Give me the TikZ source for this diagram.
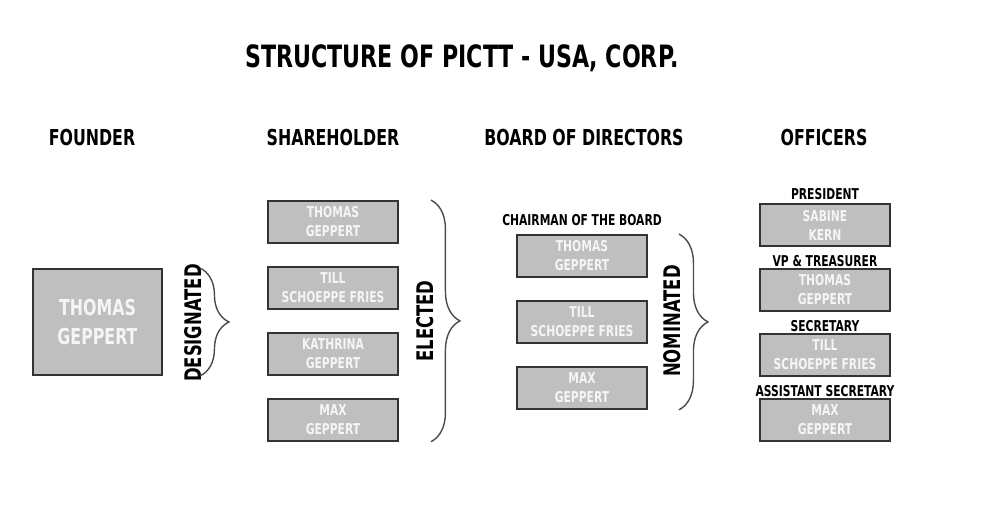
\documentclass[tikz,border=0pt]{standalone}
\usepackage{fontspec}
\setmainfont{DejaVu Sans}[FakeStretch=0.72]
\usepackage{xcolor}
\usetikzlibrary{positioning, decorations.pathreplacing}

\begin{document}
\begin{tikzpicture}[
    x=0.02cm, y=-0.02cm,
    node distance=0.44cm,
    every node/.style={font=\bfseries},
    title/.style={font=\bfseries\fontsize{17.5}{20}\selectfont},
    head/.style={font=\bfseries\fontsize{12.5}{15}\selectfont},
    person/.style={rectangle, draw=black!80, line width=1.1pt, fill=black!25, text=white!96!black, minimum width=2.6cm, minimum height=0.84cm, inner sep=0pt, align=center, font=\bfseries\fontsize{8.5}{10.8}\selectfont},
    bigperson/.style={person, minimum width=2.58cm, minimum height=2.12cm, font=\bfseries\fontsize{12.5}{16.5}\selectfont},
    role/.style={inner sep=0pt, font=\bfseries\fontsize{8.5}{10}\selectfont},
    vlabel/.style={rotate=90, inner sep=0pt, font=\bfseries\fontsize{13}{15}\selectfont},
    brace/.style={decorate, decoration={brace, amplitude=0.58cm}, draw=black!70, line width=0.8pt}
]
\useasboundingbox (0,0) rectangle (1000,508);

% Title and column heads
\node[title] (title) at (462,58) {STRUCTURE OF PICTT - USA, CORP.};
\node[head] (hfounder) at (92,137) {FOUNDER};
\node[head] (hshare) at (333,137) {SHAREHOLDER};
\node[head] (hboard) at (584,137) {BOARD OF DIRECTORS};
\node[head] (hofficers) at (824,137) {OFFICERS};

% Founder
\node[bigperson] (founder) at (97.5,322) {THOMAS\\GEPPERT};
\node[vlabel] (designated) at (193,323) {DESIGNATED};

% Shareholders
\node[person] (sh1) at (333,222) {THOMAS\\GEPPERT};
\node[person, below=of sh1] (sh2) {TILL\\SCHOEPPE FRIES};
\node[person, below=of sh2] (sh3) {KATHRINA\\GEPPERT};
\node[person, below=of sh3] (sh4) {MAX\\GEPPERT};
\node[vlabel] (elected) at (425,321) {ELECTED};

% Board of directors
\node[person] (bd1) at (582,256) {THOMAS\\GEPPERT};
\node[person, below=of bd1] (bd2) {TILL\\SCHOEPPE FRIES};
\node[person, below=of bd2] (bd3) {MAX\\GEPPERT};
\node[role, above=0.15cm of bd1] (chair) {CHAIRMAN OF THE BOARD};
\node[vlabel] (nominated) at (672,321) {NOMINATED};

% Officers
\node[person] (of1) at (825,225) {SABINE\\KERN};
\node[person, below=0.42cm of of1] (of2) {THOMAS\\GEPPERT};
\node[person, below=0.42cm of of2] (of3) {TILL\\SCHOEPPE FRIES};
\node[person, below=0.42cm of of3] (of4) {MAX\\GEPPERT};
\node[role, above=0.06cm of of1] (president) {PRESIDENT};
\node[role, above=0.01cm of of2] (vp) {VP \& TREASURER};
\node[role, above=0.01cm of of3] (secretary) {SECRETARY};
\node[role, above=0.01cm of of4] (assistant) {ASSISTANT SECRETARY};

% Braces
\draw[brace] ([xshift=0.74cm]founder.north east) -- ([xshift=0.74cm]founder.south east);
\draw[brace] ([xshift=0.64cm]sh1.north east) -- ([xshift=0.64cm]sh4.south east);
\draw[brace] ([xshift=0.62cm]bd1.north east) -- ([xshift=0.62cm]bd3.south east);

\end{tikzpicture}
\end{document}
